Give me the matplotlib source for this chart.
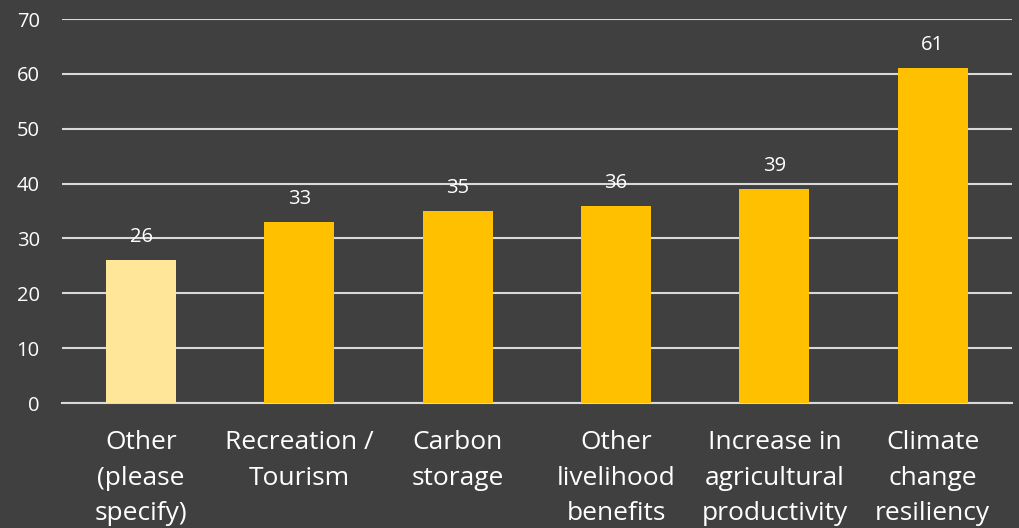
import matplotlib.pyplot as plt
import numpy as np

plt.rcParams['font.family'] = ['Open Sans', 'DejaVu Sans']

categories = ["Other\n(please\nspecify)", "Recreation /\nTourism", "Carbon\nstorage",
              "Other\nlivelihood\nbenefits", "Increase in\nagricultural\nproductivity",
              "Climate\nchange\nresiliency"]
values = [26, 33, 35, 36, 39, 61]
colors = ["#FFE699", "#FFC000", "#FFC000", "#FFC000", "#FFC000", "#FFC000"]

bg = "#404040"
fig = plt.figure(figsize=(10.2, 5.28), dpi=100, facecolor=bg)
ax = fig.add_axes([0.0608, 0.2367, 0.9312, 0.7273], facecolor=bg)

x = np.arange(len(categories))
bars = ax.bar(x, values, width=0.442, color=colors, zorder=3)

for xi, v in zip(x, values):
    ax.annotate(str(v), (xi, v), xytext=(0, 16.5), textcoords="offset points",
                ha="center", va="center", color="white", fontsize=14.5)

ax.set_ylim(0, 70)
ax.set_xlim(-0.5, len(categories) - 0.5)
ax.set_yticks(range(0, 71, 10))
ax.yaxis.grid(True, color="#d9d9d9", linewidth=1.5, zorder=0)
ax.set_axisbelow(True)

ax.set_xticks(x)
ax.set_xticklabels(categories, fontsize=19, color="white", linespacing=1.56)
ax.tick_params(axis="x", length=0, pad=19.5)
ax.tick_params(axis="y", length=0, pad=16, labelcolor="white", labelsize=14.5)

for side in ["top", "right", "left"]:
    ax.spines[side].set_visible(False)
ax.spines["bottom"].set_color("#d9d9d9")
ax.spines["bottom"].set_linewidth(1.5)

fig.savefig("out.png", dpi=100, facecolor=bg)
